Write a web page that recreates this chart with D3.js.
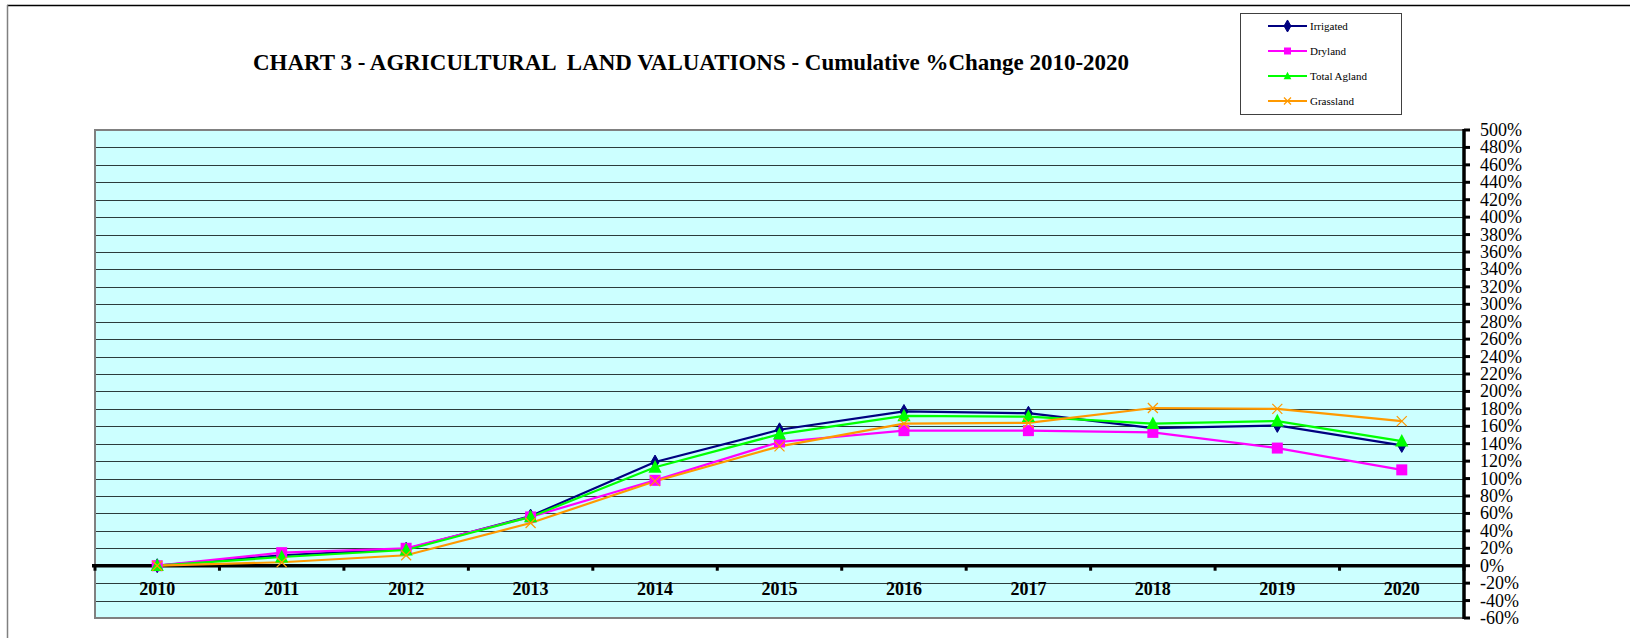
<!DOCTYPE html>
<html>
<head>
<meta charset="utf-8">
<script src="https://cdn.jsdelivr.net/npm/d3@7"></script>
<style>
  body { margin: 0; background: #fff; }
  svg { display: block; font-family: "Liberation Serif", "Times New Roman", serif; }
</style>
</head>
<body>
<div id="chart"></div>
<script>
// Categories and series (cumulative % change since 2010)
const years = ["2010", "2011", "2012", "2013", "2014", "2015", "2016", "2017", "2018", "2019", "2020"];
const irrigated = [0, 12, 19, 57, 119, 156, 177, 175, 158, 161, 138];
const dryland = [0, 15, 20, 56, 98, 142, 155, 155, 153, 135, 110];
const totalAgland = [0, 10, 18, 56, 113, 151, 172, 171, 163, 166, 143];
const grassland = [0, 4, 12, 49, 97, 137, 163, 164, 181, 180, 166];
const yTicks = d3.range(-60, 501, 20);

const W = 1630, H = 638;
const plot = { left: 95, top: 130, right: 1464, bottom: 618 };

const svg = d3.select("#chart").append("svg")
    .attr("width", W)
    .attr("height", H);

// outer chart frame (cut off at right and bottom)
svg.append("line").attr("x1", 7).attr("x2", W).attr("y1", 5.5).attr("y2", 5.5)
    .attr("stroke", "#000").attr("stroke-width", 1.5);
svg.append("line").attr("x1", 7.5).attr("x2", 7.5).attr("y1", 5).attr("y2", H)
    .attr("stroke", "#808080").attr("stroke-width", 1.5);

// Title
svg.append("text")
    .attr("x", 253)
    .attr("y", 70)
    .attr("font-size", "24px")
    .attr("font-weight", "bold")
    .attr("textLength", 876)
    .attr("lengthAdjust", "spacingAndGlyphs")
    .style("white-space", "pre")
    .text("CHART 3 - AGRICULTURAL  LAND VALUATIONS - Cumulative %Change 2010-2020");

// Scales
const x = d3.scaleBand().domain(years).range([plot.left, plot.right]);
const y = d3.scaleLinear().domain([-60, 500]).range([plot.bottom, plot.top]);
const cx = d => x(d) + x.bandwidth() / 2;

// Plot background
svg.append("rect")
    .attr("x", plot.left).attr("y", plot.top)
    .attr("width", plot.right - plot.left).attr("height", plot.bottom - plot.top)
    .attr("fill", "#CCFFFF");

// Grid lines
svg.selectAll(".grid").data(yTicks.filter(d => d !== 0 && d !== 500 && d !== -60))
    .enter().append("line")
    .attr("class", "grid")
    .attr("x1", plot.left).attr("x2", plot.right)
    .attr("y1", d => Math.round(y(d)) + 0.5).attr("y2", d => Math.round(y(d)) + 0.5)
    .attr("stroke", "#2b3b3b").attr("stroke-width", 1.2);

// Plot border (gray)
svg.append("rect")
    .attr("x", plot.left).attr("y", plot.top)
    .attr("width", plot.right - plot.left).attr("height", plot.bottom - plot.top)
    .attr("fill", "none").attr("stroke", "#808080").attr("stroke-width", 2);

// Zero line with category ticks
const y0 = y(0);
svg.append("line")
    .attr("x1", plot.left - 3).attr("x2", plot.right)
    .attr("y1", y0).attr("y2", y0)
    .attr("stroke", "#000").attr("stroke-width", 3.5);
svg.selectAll(".xtick").data(years.concat(["end"]))
    .enter().append("line")
    .attr("class", "xtick")
    .attr("x1", (d, i) => i < years.length ? x(d) : plot.right)
    .attr("x2", (d, i) => i < years.length ? x(d) : plot.right)
    .attr("y1", y0).attr("y2", y0 + 5)
    .attr("stroke", "#000").attr("stroke-width", 3);

// X labels
svg.selectAll(".xlabel").data(years)
    .enter().append("text")
    .attr("class", "xlabel")
    .attr("x", d => cx(d))
    .attr("y", 595)
    .attr("text-anchor", "middle")
    .attr("font-size", "18px")
    .attr("font-weight", "bold")
    .text(d => d);

// Right value axis
svg.append("line")
    .attr("x1", plot.right).attr("x2", plot.right)
    .attr("y1", plot.top - 1).attr("y2", plot.bottom + 1)
    .attr("stroke", "#000").attr("stroke-width", 3.5);
svg.selectAll(".ytick").data(yTicks)
    .enter().append("line")
    .attr("class", "ytick")
    .attr("x1", plot.right).attr("x2", plot.right + 6)
    .attr("y1", d => y(d)).attr("y2", d => y(d))
    .attr("stroke", "#000").attr("stroke-width", 3);
svg.selectAll(".ylabel").data(yTicks)
    .enter().append("text")
    .attr("class", "ylabel")
    .attr("x", plot.right + 16)
    .attr("y", d => y(d))
    .attr("dy", "0.33em")
    .attr("font-size", "18px")
    .text(d => d + "%");

// Series
const series = [
    { name: "Irrigated", values: irrigated, color: "#000080", marker: "diamond" },
    { name: "Dryland", values: dryland, color: "#FF00FF", marker: "square" },
    { name: "Total Agland", values: totalAgland, color: "#00FF00", marker: "triangle" },
    { name: "Grassland", values: grassland, color: "#FF9900", marker: "x" }
];

const line = d3.line().x(d => cx(d.year)).y(d => y(d.value));

function drawMarker(g, type, color, px, py, s) {
    if (type === "diamond") {
        g.append("path")
            .attr("d", d3.symbol(d3.symbolDiamond, s * 7)())
            .attr("transform", `translate(${px},${py})`)
            .attr("fill", color).attr("stroke", color);
    } else if (type === "square") {
        g.append("rect")
            .attr("x", px - s / 2).attr("y", py - s / 2)
            .attr("width", s).attr("height", s)
            .attr("fill", color);
    } else if (type === "triangle") {
        g.append("path")
            .attr("d", `M${px},${py - s * 0.6}L${px + s * 0.55},${py + s * 0.45}L${px - s * 0.55},${py + s * 0.45}Z`)
            .attr("fill", color);
    } else {
        const h = s / 2;
        g.append("path")
            .attr("d", `M${px - h},${py - h}L${px + h},${py + h}M${px - h},${py + h}L${px + h},${py - h}`)
            .attr("stroke", color).attr("stroke-width", 1.2).attr("fill", "none");
    }
}

const markerSize = { diamond: 8, square: 11, triangle: 12, x: 10 };

// Draw lines and markers in order
series.forEach(s => {
    const pts = years.map((yr, i) => ({ year: yr, value: s.values[i] }));
    svg.append("path")
        .datum(pts)
        .attr("fill", "none")
        .attr("stroke", s.color)
        .attr("stroke-width", 2.2)
        .attr("d", line);
});
series.forEach(s => {
    const g = svg.append("g");
    years.forEach((yr, i) => drawMarker(g, s.marker, s.color, cx(yr), y(s.values[i]), markerSize[s.marker]));
});

// Legend
const legend = svg.append("g");
legend.append("rect")
    .attr("x", 1240.5).attr("y", 13.5)
    .attr("width", 161).attr("height", 101)
    .attr("fill", "#fff").attr("stroke", "#404040").attr("stroke-width", 1);
series.forEach((s, i) => {
    const ly = 26 + i * 25;
    legend.append("line")
        .attr("x1", 1268).attr("x2", 1307)
        .attr("y1", ly).attr("y2", ly)
        .attr("stroke", s.color).attr("stroke-width", 2);
    drawMarker(legend, s.marker, s.color, 1287.5, ly, s.marker === "diamond" ? 6 : 7);
    legend.append("text")
        .attr("x", 1310).attr("y", ly)
        .attr("dy", "0.35em")
        .attr("font-size", "11px")
        .text(s.name);
});
</script>
</body>
</html>
